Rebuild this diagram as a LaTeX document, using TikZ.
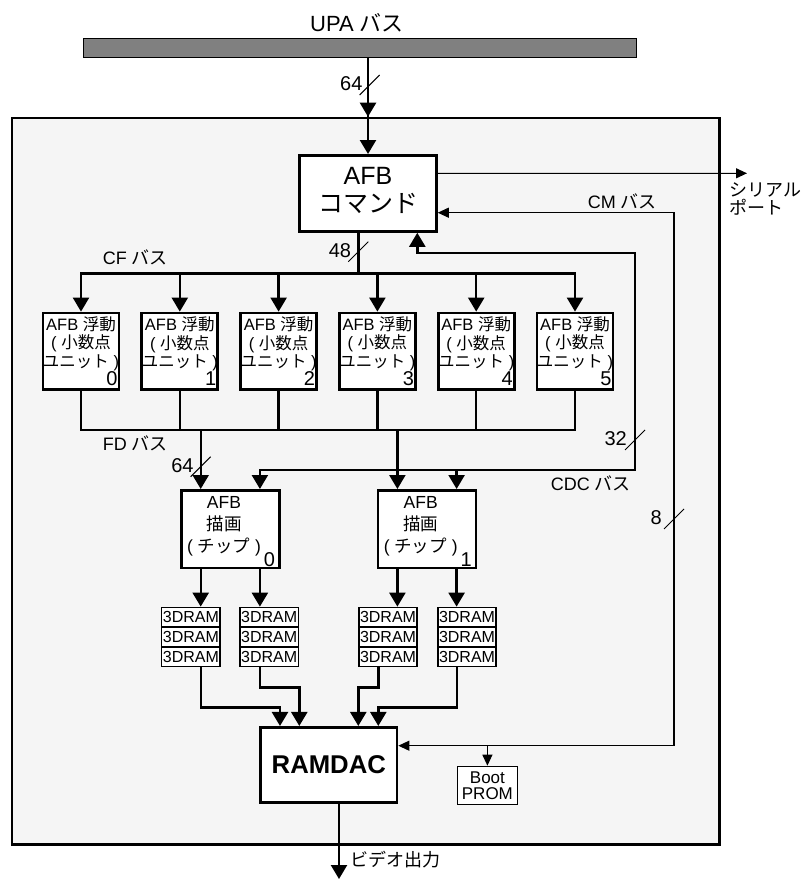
\documentclass[tikz,border=0pt]{standalone}
\usepackage{fontspec}
\setmainfont{Liberation Sans}
\newfontfamily\cjk{Noto Sans CJK JP}
\newcommand\jp[1]{{\cjk #1}}
\usetikzlibrary{arrows.meta}
\definecolor{panel}{HTML}{F5F5F5}
\definecolor{upagray}{HTML}{808080}
\tikzset{
  px/.style={x=1pt,y=-1pt,line width=2.4pt,line cap=rect},
  fs/.style 2 args={font=\fontsize{#1}{#2}\selectfont},
  bustip/.tip={Triangle[length=14pt,width=16pt]},
  sigtip/.tip={Triangle[length=11pt,width=10pt]},
  blk/.style={draw,fill=white,line width=2.8pt,inner sep=0pt,align=center},
  cell/.style={draw,fill=white,line width=1.3pt,inner sep=0pt,minimum width=58.2pt,minimum height=19.8pt,fs={16}{16}},
  bus/.style={line width=2.4pt,-bustip},
  sig/.style={line width=1.1pt},
  tick/.style={line width=1pt,line cap=butt},
  lbl/.style={fs={18}{18},inner sep=0pt},
}
\begin{document}
\begin{tikzpicture}[px]
  \useasboundingbox (0,0) rectangle (805,880);
  % board and UPA bus
  \node[draw,fill=panel,line width=2.8pt,minimum width=707.7pt,minimum height=726.2pt,inner sep=0pt] (board) at (365.75,481.2) {};
  \node[draw,fill=upagray,line width=1.4pt,minimum width=553pt,minimum height=19pt,inner sep=0pt] (upa) at (359.8,48) {};
  \node[fs={22}{22}] (upat) at (357,23) {UPA \jp{バス}};
  % blocks
  \node[blk,minimum width=136.7pt,minimum height=76pt,fs={25}{28.5}] (cmd) at (368,193.4) {AFB\\\jp{コマンド}\rule[-7pt]{0pt}{7pt}};
  \foreach \i in {0,...,5}
    \node[blk,minimum width=75.3pt,minimum height=76.6pt,fs={16.5}{18.3}] (fp\i) at ({81+98.8*\i},351.3)
      {AFB \jp{浮動}\\( \jp{小数点}\\\jp{ユニット} )\\\hbox to 73pt{\hfill\fontsize{20}{18.3}\selectfont\i}};
  \foreach \i/\x in {0/230.3,1/427}
    \node[blk,minimum width=98pt,minimum height=77.6pt,fs={17.5}{21.8}] (dr\i) at (\x,529.2)
      {AFB\kern12.6pt\\\jp{描画}\kern12.6pt\\( \jp{チップ} )\rlap{\kern3pt\smash{\raisebox{-14pt}{\fontsize{20}{20}\selectfont\i}}}\kern12.6pt\rule[-10pt]{0pt}{10pt}};
  \foreach \s/\x in {0/190.9,1/269.2,2/388,3/467}
    \foreach \r in {0,1,2}
      \node[cell] (m\s\r) at (\x,{617.2+19.8*\r}) {3DRAM};
  \node[blk,minimum width=136.3pt,minimum height=75.3pt,fs={25.7}{26}] (rdac) at (328.8,765) {\bfseries RAMDAC};
  \node[cell,minimum width=60pt,minimum height=38.3pt,align=center,fs={17}{15.5}] (prom) at (487.4,785.5) {Boot\\PROM};
  % ports
  \foreach \i in {0,1}{
    \coordinate (dtl\i) at ([xshift=-29.6pt]dr\i.north);
    \coordinate (dtr\i) at ([xshift=29.6pt]dr\i.north);
    \coordinate (dbl\i) at ([xshift=-29.6pt]dr\i.south);
    \coordinate (dbr\i) at ([xshift=29.6pt]dr\i.south);
  }
  \coordinate (rin1) at ([xshift=-48.8pt]rdac.north);
  \coordinate (rin2) at ([xshift=-29.5pt]rdac.north);
  \coordinate (rin3) at ([xshift=29.5pt]rdac.north);
  \coordinate (rin4) at ([xshift=49.5pt]rdac.north);
  \coordinate (cmdp) at ([xshift=49.3pt]cmd.south);
  \coordinate (ent) at (board.north -| cmd.north);
  % UPA -> command
  \draw[bus] (upa.south -| cmd.north) -- (ent);
  \draw[bus] (ent) -- (cmd.north);
  % serial port
  \coordinate (ser) at (747,173.3);
  \draw[sig,-sigtip] ([yshift=20.1pt]cmd.east) -- (ser);
  \node[lbl,anchor=west,align=left,fs={18}{18.3}] (sert) at (728,199.2) {\jp{シリアル}\\\jp{ポート}};
  % CM bus
  \coordinate (cmc) at (674,745.7);
  \draw[sig,sigtip-sigtip] ([yshift=-19.3pt]cmd.east) -| (cmc) -- ([yshift=19.3pt]rdac.east);
  \draw[sig,-sigtip] (prom.north |- cmc) -- (prom.north);
  \node[lbl] (cmt) at (622.3,201.7) {CM \jp{バス}};
  % CF bus
  \coordinate (cfj) at (358.3,273.3);
  \draw (cmd.south -| cfj) -- (cfj);
  \draw (fp0.north |- cfj) -- (fp5.north |- cfj);
  \foreach \i in {0,...,5} \draw[bus] (fp\i.north |- cfj) -- (fp\i.north);
  \node[lbl] (cft) at (135.3,257) {CF \jp{バス}};
  % FD bus
  \coordinate (fdj) at (200.7,430);
  \foreach \i in {0,...,5} \draw (fp\i.south) -- (fp\i.south |- fdj);
  \draw (fp0.south |- fdj) -- (fp5.south |- fdj);
  \draw[bus] (dtl0 |- fdj) -- (dtl0);
  \draw[bus] (dtl1 |- fdj) -- (dtl1);
  \node[lbl] (fdt) at (135.3,443) {FD \jp{バス}};
  % CDC bus
  \coordinate (cdcb) at (635,470);
  \coordinate (cdct) at (635,252.7);
  \draw[bus] (cdcb) -| (dtr0);
  \draw[bus] (dtr1 |- cdcb) -- (dtr1);
  \draw[bus] (cdcb) -- (cdct) -| (cmdp);
  \node[lbl,anchor=east] (cdcl) at (632,483.3) {CDC \jp{バス}};
  % frame buffer memory
  \draw[bus] (dbl0) -- (dbl0 |- m00.north);
  \draw[bus] (dbr0) -- (dbr0 |- m10.north);
  \draw[bus] (dbl1) -- (dbl1 |- m20.north);
  \draw[bus] (dbr1) -- (dbr1 |- m30.north);
  \draw[bus] ([xshift=9.8pt]m02.south) -- ++(0,40) -| (rin1);
  \draw[bus] ([xshift=-9.2pt]m12.south) -- ++(0,20) -| (rin2);
  \draw[bus] ([xshift=-9.7pt]m22.south) -- ++(0,20) -| (rin3);
  \draw[bus] ([xshift=-10.3pt]m32.south) -- ++(0,40) -| (rin4);
  % video out
  \coordinate (vout) at (339,879);
  \draw[bus] ([xshift=10.2pt]rdac.south) -- (vout);
  \node[lbl,anchor=west] (vt) at (349,860) {\jp{ビデオ出力}};
  % bus widths
  \foreach \x/\y/\w/\d [count=\k] in {369.6/85/64/6, 358.3/251.7/48/6, 200.7/466.7/64/6, 635/440/32/7, 674/519/8/11}{
    \draw[tick] ({\x-10},{\y+10}) -- ({\x+10},{\y-10});
    \node[fs={20}{20},inner sep=0pt,anchor=east] (bw\k) at ({\x-\d},{\y-1}) {\w};
  }
\end{tikzpicture}
\end{document}
